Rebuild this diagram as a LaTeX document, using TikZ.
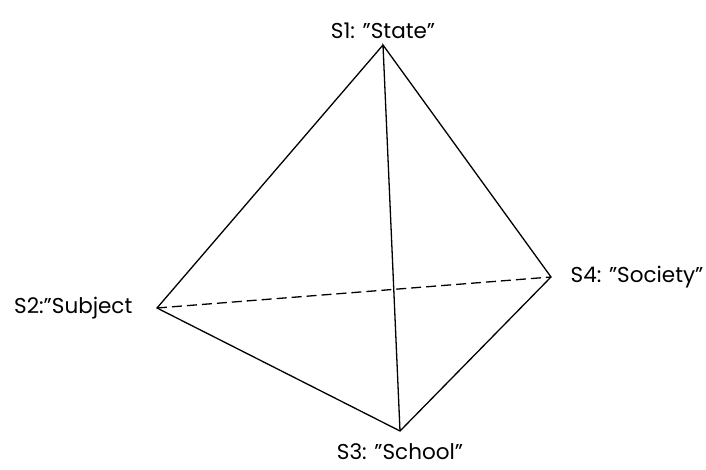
\documentclass[tikz,border=0pt]{standalone}
\usepackage{fontspec}
\setmainfont{Poppins}
\usepackage{tikz}
\usetikzlibrary{positioning}

\begin{document}
\begin{tikzpicture}[x=1pt, y=-1pt, font=\fontsize{21.5}{24}\selectfont, line width=1.3pt]
		\useasboundingbox (0,0) rectangle (706,470);
		% corners of the tetrahedron
		\coordinate (s1) at (383,45);
		\coordinate (s2) at (157,308);
		\coordinate (s3) at (400,431);
		\coordinate (s4) at (551,277);
		% hidden edge
		\draw[dashed, dash pattern=on 10pt off 5pt] (s2) -- (s4);
		% visible edges
		\draw (s1) -- (s2) -- (s3) -- (s4) -- (s1) -- (s3);
		% labels
		\node[anchor=south, inner sep=0pt] (l1) at ([yshift=6pt]s1) {S1: "State"};
		\node[anchor=east, inner sep=0pt] (l2) at ([xshift=-24pt]s2) {S2:"Subject};
		\node[anchor=north, inner sep=0pt] (l3) at ([yshift=-12pt]s3) {S3: "School"};
		\node[anchor=west, inner sep=0pt] (l4) at ([xshift=19pt]s4) {S4: "Society"};
	\end{tikzpicture}
\end{document}
